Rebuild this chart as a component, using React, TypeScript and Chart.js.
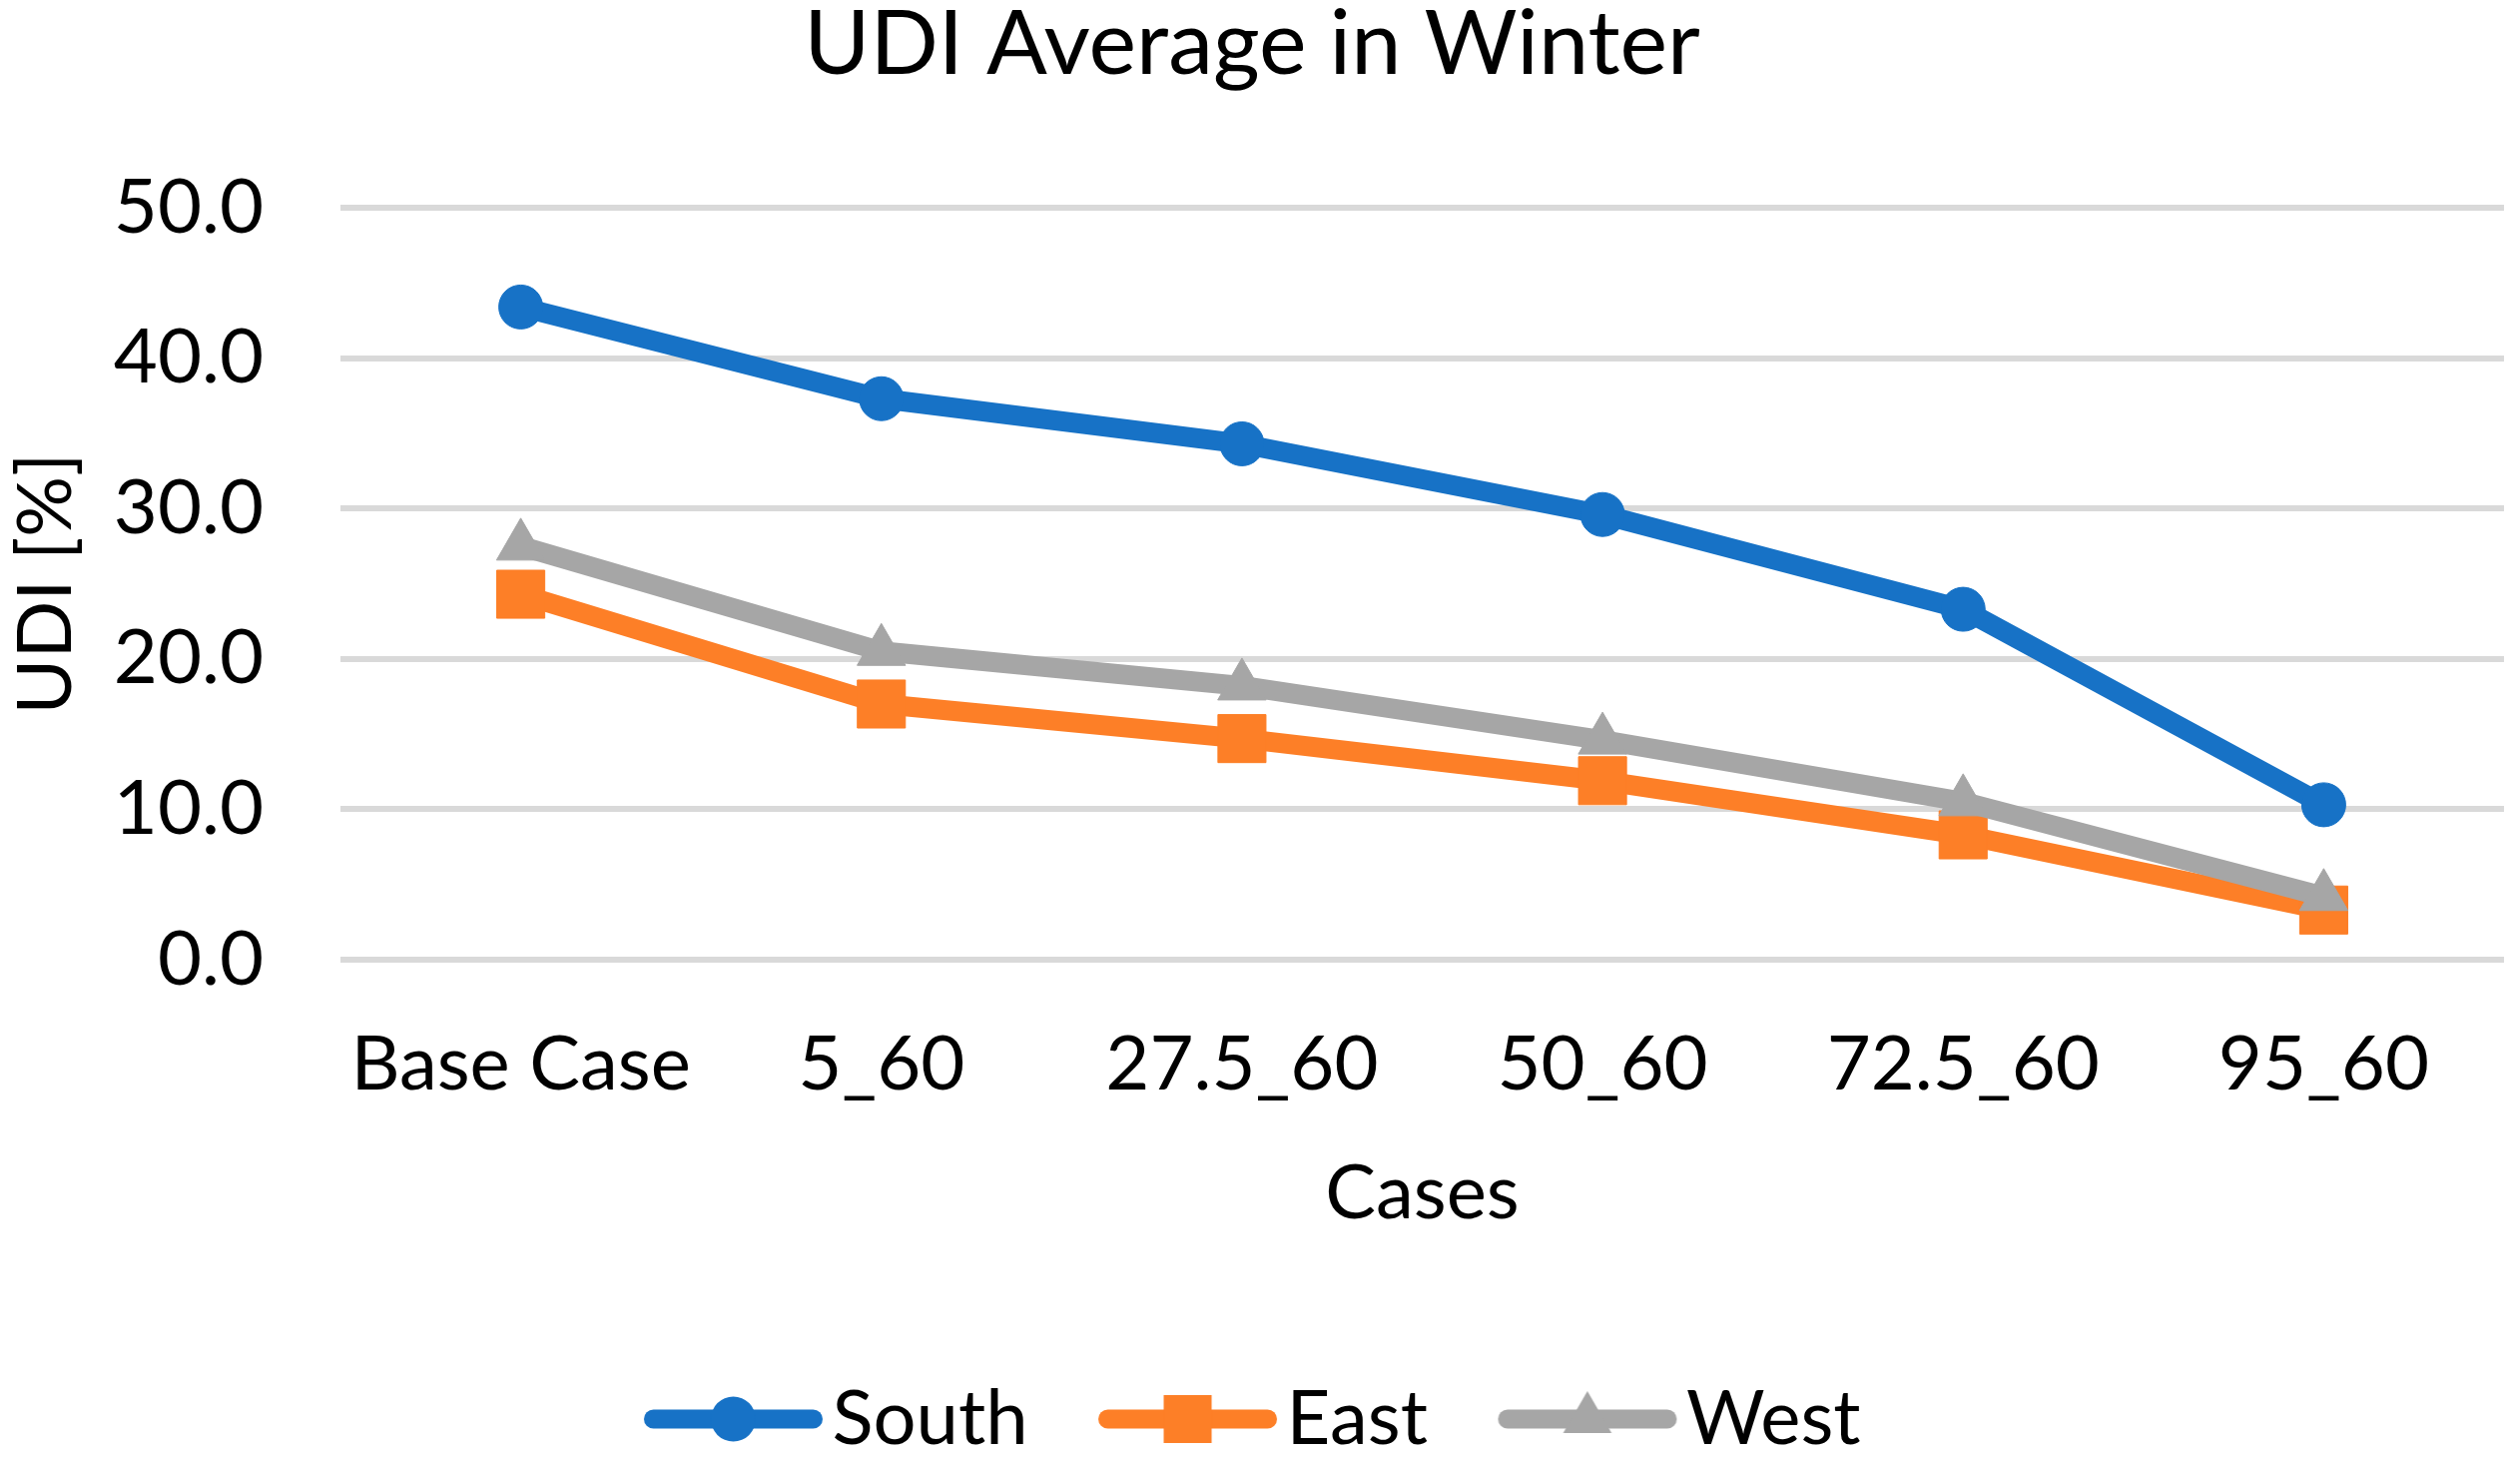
import React, { useEffect, useRef } from "react";
import { Chart, registerables } from "chart.js";

Chart.register(...registerables);

const categories = ["Base Case", "5_60", "27.5_60", "50_60", "72.5_60", "95_60"];
const seriesNames = ["South", "East", "West"];
const southValues = [43.4, 37.3, 34.3, 29.6, 23.3, 10.3];
const eastValues = [24.3, 17.0, 14.7, 11.9, 8.3, 3.3];
const westValues = [27.5, 20.5, 18.2, 14.6, 10.5, 4.2];
const yTicks = [0, 10, 20, 30, 40, 50];

const COLORS = ["#1772C6", "#FD7F27", "#A6A6A6"];
const STYLES = ["circle", "rect", "triangle"];
const RADII = [22, 34, 28];
const FONT = "Lato, 'Open Sans', sans-serif";
const W = 2524;
const H = 1463;

function makeLegendIcon(color: string, style: string): HTMLCanvasElement {
  const c = document.createElement("canvas");
  c.width = 220;
  c.height = 64;
  const ctx = c.getContext("2d")!;
  ctx.strokeStyle = color;
  ctx.fillStyle = color;
  ctx.lineWidth = 19;
  ctx.lineCap = "round";
  ctx.beginPath();
  ctx.moveTo(44.5, 32);
  ctx.lineTo(204.5, 32);
  ctx.stroke();
  const cx = 124.5;
  const cy = 32;
  ctx.beginPath();
  if (style === "circle") {
    ctx.arc(cx, cy, 22.5, 0, Math.PI * 2);
  } else if (style === "rect") {
    ctx.rect(cx - 24, cy - 24, 48, 48);
  } else {
    const r = 28;
    ctx.moveTo(cx, cy - r);
    ctx.lineTo(cx + r * Math.sin((2 * Math.PI) / 3), cy - r * Math.cos((2 * Math.PI) / 3));
    ctx.lineTo(cx + r * Math.sin((4 * Math.PI) / 3), cy - r * Math.cos((4 * Math.PI) / 3));
    ctx.closePath();
  }
  ctx.fill();
  return c;
}

export default function App() {
  const ref = useRef<HTMLCanvasElement | null>(null);

  useEffect(() => {
    document.body.style.margin = "0";
    document.body.style.overflow = "hidden";
    const canvas = ref.current;
    if (!canvas) return;
    const icons = COLORS.map((c, i) => makeLegendIcon(c, STYLES[i]));
    const allValues = [southValues, eastValues, westValues];
    const datasets = seriesNames.map((name, i) => ({
      label: name,
      data: allValues[i],
      borderColor: COLORS[i],
      backgroundColor: COLORS[i],
      borderWidth: 20,
      borderCapStyle: "round" as const,
      borderJoinStyle: "round" as const,
      pointStyle: STYLES[i] as any,
      pointRadius: RADII[i],
      pointHoverRadius: RADII[i],
      pointBackgroundColor: COLORS[i],
      pointBorderColor: COLORS[i],
      pointBorderWidth: 1,
      tension: 0,
      fill: false,
      order: 2 - i,
    }));

    const chart = new Chart(canvas, {
      type: "line",
      data: { labels: categories, datasets },
      options: {
        responsive: false,
        animation: false,
        devicePixelRatio: 1,
        layout: { autoPadding: false, padding: { left: 0, right: 16, top: 0, bottom: -6 } },
        plugins: {
          tooltip: { enabled: false },
          title: {
            display: true,
            text: "UDI Average in Winter",
            color: "#000",
            font: { family: FONT, size: 90, weight: "normal", lineHeight: 1 },
            padding: { top: 0, bottom: 118 },
          },
          legend: {
            display: true,
            position: "bottom",
            labels: {
              usePointStyle: true,
              pointStyleWidth: 151,
              padding: 70,
              color: "#000",
              font: { family: FONT, size: 76 },
              generateLabels: (ch: any) =>
                ch.data.datasets.map((ds: any, i: number) => ({
                  text: ds.label,
                  pointStyle: icons[i],
                  fillStyle: "transparent",
                  strokeStyle: "transparent",
                  lineWidth: 0,
                  hidden: false,
                  datasetIndex: i,
                  fontColor: "#000",
                })),
            },
          },
        },
        scales: {
          x: {
            type: "category",
            offset: true,
            grid: { display: false, drawTicks: false },
            border: { display: false },
            ticks: {
              color: "#000",
              font: { family: FONT, size: 76, lineHeight: 1.2 },
              padding: 60,
              maxRotation: 0,
              autoSkip: false,
            },
            title: {
              display: true,
              text: "Cases",
              color: "#000",
              font: { family: FONT, size: 76, lineHeight: 1.2 },
              padding: { top: 0, bottom: 72 },
            },
            afterFit: (scale: any) => {
              scale.height = 352;
            },
          },
          y: {
            min: 0,
            max: 50,
            afterBuildTicks: (scale: any) => {
              scale.ticks = yTicks.map((v) => ({ value: v }));
            },
            grid: { color: "#D9D9D9", lineWidth: 6, drawTicks: false },
            border: { display: false },
            ticks: {
              color: "#000",
              font: { family: FONT, size: 76, lineHeight: 1.2 },
              padding: 77,
              callback: (v: any) => Number(v).toFixed(1),
            },
            title: {
              display: true,
              text: "UDI [%]",
              color: "#000",
              font: { family: FONT, size: 76, lineHeight: 1.2 },
              padding: { top: 1, bottom: 0 },
            },
            afterFit: (scale: any) => {
              scale.width = 341;
            },
          },
        },
      },
    });
    return () => chart.destroy();
  }, []);

  return (
    <div style={{ width: W, height: H }}>
      <canvas ref={ref} width={W} height={H} style={{ display: "block", width: W, height: H }} />
    </div>
  );
}
